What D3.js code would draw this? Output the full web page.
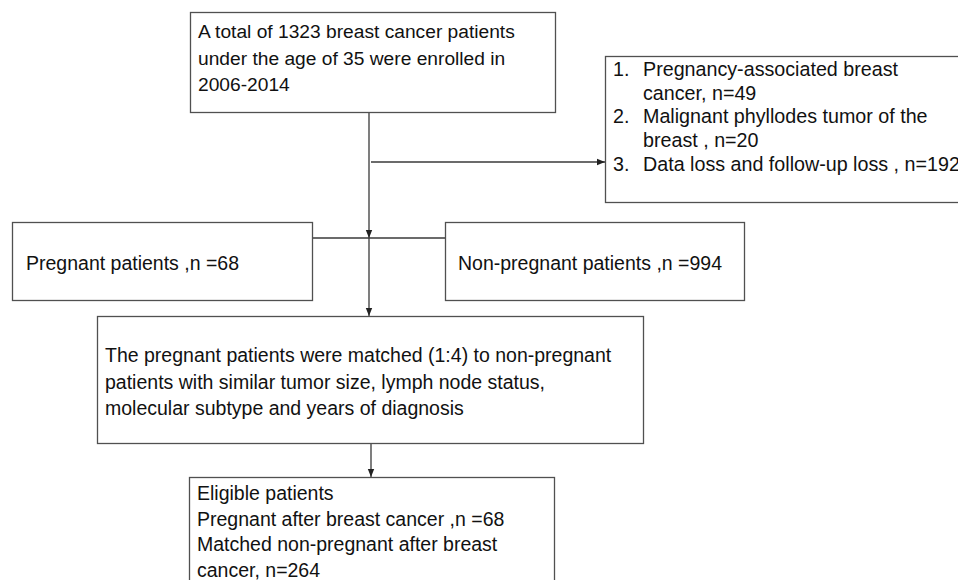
<!DOCTYPE html>
<html>
<head>
<meta charset="utf-8">
<script src="https://cdn.jsdelivr.net/npm/d3@7"></script>
<style>
  html, body { margin: 0; padding: 0; background: #fff; }
  svg { display: block; }
  text { font-family: "Liberation Sans", Arial, sans-serif; fill: #111; }
</style>
</head>
<body>
<svg id="chart" width="958" height="580"></svg>
<script>
// ---- content (text data) ----
const enrolledLines = [
  "A total of 1323 breast cancer patients",
  "under the age of 35 were enrolled in",
  "2006-2014"
];
const exclusionNumbers = ["1.", "", "2.", "", "3."];
const exclusionLines = [
  "Pregnancy-associated breast",
  "cancer, n=49",
  "Malignant phyllodes tumor of the",
  "breast , n=20",
  "Data loss and follow-up loss , n=192"
];
const pregnantLines = ["Pregnant patients ,n =68"];
const nonPregnantLines = ["Non-pregnant patients ,n =994"];
const matchedLines = [
  "The pregnant patients were matched (1:4) to non-pregnant",
  "patients with similar tumor size, lymph node status,",
  "molecular subtype and years of diagnosis"
];
const eligibleLines = [
  "Eligible patients",
  "Pregnant after breast cancer ,n =68",
  "Matched non-pregnant after breast",
  "cancer, n=264"
];

// ---- layout ----
const svg = d3.select("#chart");
const FS = 19.5;
const lineCol = "#3a3a3a";
const boxCol = "#505050";

svg.append("defs").append("marker")
  .attr("id", "arr").attr("viewBox", "0 0 10 10")
  .attr("refX", 10).attr("refY", 5)
  .attr("markerWidth", 8).attr("markerHeight", 8)
  .attr("markerUnits", "userSpaceOnUse")
  .attr("orient", "auto")
  .append("path").attr("d", "M0,1 L10,5 L0,9 Z").attr("fill", "#222");

const boxes = [
  {x: 190, y: 12, w: 365, h: 100, lines: enrolledLines, tx: 198, ty: 38, dy: 26.5, fs: 19.2},
  {x: 605, y: 56, w: 400, h: 146, lines: exclusionLines, tx: 643, ty: 76, dy: 23.7, nums: exclusionNumbers, nx: 613, fs: 19.7},
  {x: 12, y: 222, w: 300, h: 78, lines: pregnantLines, tx: 26, ty: 270, dy: 26, fs: FS},
  {x: 445, y: 222, w: 299, h: 78, lines: nonPregnantLines, tx: 458, ty: 270, dy: 26, fs: FS},
  {x: 97, y: 316, w: 546, h: 127, lines: matchedLines, tx: 105, ty: 362, dy: 26.5, fs: FS},
  {x: 189, y: 477, w: 365, h: 140, lines: eligibleLines, tx: 197, ty: 500, dy: 25.5, fs: FS}
];

const line = d3.line();
function conn(pts, arrow) {
  const p = svg.append("path").attr("d", line(pts))
    .attr("fill", "none").attr("stroke", lineCol).attr("stroke-width", 1.3);
  if (arrow) p.attr("marker-end", "url(#arr)");
}

// connectors
conn([[369, 112], [369, 238]], true);
conn([[371, 162], [605, 162]], true);
conn([[312, 238], [445, 238]], false);
conn([[369, 238], [369, 316]], true);
conn([[371, 443], [371, 477]], true);

// boxes
boxes.forEach(b => {
  svg.append("rect")
    .attr("x", b.x + 0.5).attr("y", b.y + 0.5)
    .attr("width", b.w).attr("height", b.h)
    .attr("fill", "none").attr("stroke", boxCol).attr("stroke-width", 1.3);
  svg.selectAll(null).data(b.lines).enter().append("text")
    .attr("x", b.tx).attr("y", (d, i) => b.ty + i * b.dy)
    .attr("font-size", b.fs).text(d => d);
  if (b.nums) {
    svg.selectAll(null).data(b.nums).enter().append("text")
      .attr("x", b.nx).attr("y", (d, i) => b.ty + i * b.dy)
      .attr("font-size", b.fs).text(d => d);
  }
});
</script>
</body>
</html>
